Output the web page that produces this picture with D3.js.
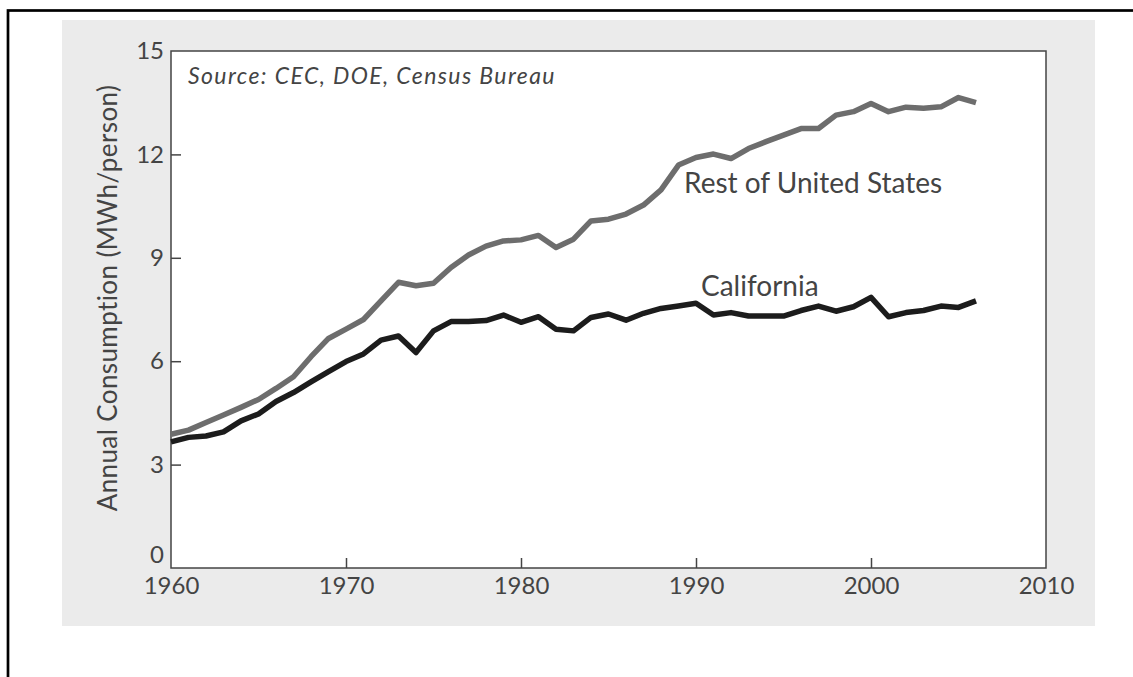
<!DOCTYPE html>
<html>
<head>
<meta charset="utf-8">
<script src="https://cdn.jsdelivr.net/npm/d3@7.9.0/dist/d3.min.js"></script>
<style>
  body { margin: 0; background: #fff; }
  svg { display: block; font-family: Lato, "Open Sans", sans-serif; }
  .axis text { fill: #444; font-size: 24px; font-family: Lato, "Open Sans", sans-serif; }
  .axis line { stroke: #444; stroke-width: 1.5; }
</style>
</head>
<body>
<svg id="chart" width="1133" height="677"></svg>
<script>
const years = d3.range(1960, 2007);

const restOfUS = [
  3.88, 4.0, 4.22, 4.44, 4.66, 4.89, 5.21, 5.55, 6.13, 6.66,
  6.93, 7.21, 7.75, 8.29, 8.19, 8.26, 8.72, 9.08, 9.34, 9.49,
  9.52, 9.65, 9.3, 9.54, 10.07, 10.12, 10.27, 10.53, 10.97, 11.69,
  11.91, 12.01, 11.88, 12.17, 12.37, 12.56, 12.75, 12.75, 13.14, 13.24,
  13.48, 13.24, 13.37, 13.34, 13.38, 13.65, 13.5
];

const california = [
  3.66, 3.79, 3.83, 3.95, 4.27, 4.47, 4.83, 5.09, 5.4, 5.7,
  5.99, 6.21, 6.61, 6.73, 6.25, 6.88, 7.15, 7.15, 7.18, 7.34,
  7.13, 7.29, 6.93, 6.88, 7.27, 7.37, 7.19, 7.39, 7.53, 7.6,
  7.68, 7.34, 7.41, 7.31, 7.31, 7.31, 7.47, 7.6, 7.45, 7.58,
  7.85, 7.29, 7.41, 7.47, 7.6, 7.56, 7.75
];

const xTicks = [1960, 1970, 1980, 1990, 2000, 2010];
const yTicks = [0, 3, 6, 9, 12, 15];

const svg = d3.select('#chart');

// outer frame and grey panel
svg.append('rect')
  .attr('x', 8).attr('y', 10.5)
  .attr('width', 1200).attr('height', 800)
  .attr('fill', 'none').attr('stroke', '#000').attr('stroke-width', 2.7);

svg.append('rect')
  .attr('x', 62).attr('y', 20)
  .attr('width', 1033).attr('height', 606)
  .attr('fill', '#ebebeb');

const plotLeft = 171, plotTop = 51, plotRight = 1046, plotBottom = 568;

const x = d3.scaleLinear().domain([1960, 2010]).range([plotLeft, plotRight]);
const y = d3.scaleLinear().domain([0, 15]).range([plotBottom, plotTop]);

svg.append('rect')
  .attr('x', plotLeft).attr('y', plotTop)
  .attr('width', plotRight - plotLeft).attr('height', plotBottom - plotTop)
  .attr('fill', '#fff').attr('stroke', '#444').attr('stroke-width', 1.5);

let yAxis = svg.append('g')
  .attr('class', 'axis')
  .attr('transform', `translate(${plotLeft},0)`)
  .call(d3.axisLeft(y).tickValues(yTicks).tickSizeInner(-10).tickSizeOuter(0).tickPadding(7));
yAxis.select('.domain').remove();
yAxis.selectAll('.tick')
  .filter((d) => d === 0 || d === 15)
  .select('line').remove();
// lift the zero label clear of the year labels
yAxis.selectAll('.tick text')
  .filter((d) => d === 0)
  .attr('dy', '-0.22em');

let xAxis = svg.append('g')
  .attr('class', 'axis')
  .attr('transform', `translate(0,${plotBottom})`)
  .call(d3.axisBottom(x).tickValues(xTicks).tickFormat(d3.format('d')).tickSizeInner(-10).tickSizeOuter(0).tickPadding(9));
xAxis.select('.domain').remove();
xAxis.selectAll('.tick')
  .filter((d) => d === 1960 || d === 2010)
  .select('line').remove();

svg.append('text')
  .attr('transform', `translate(108,298) rotate(-90)`)
  .attr('text-anchor', 'middle')
  .attr('dy', '0.35em')
  .attr('fill', '#444')
  .attr('font-size', 26)
  .attr('letter-spacing', 0.4)
  .text('Annual Consumption (MWh/person)');

svg.append('text')
  .attr('x', 188).attr('y', 84)
  .attr('fill', '#444')
  .attr('font-size', 23)
  .attr('letter-spacing', 1.4)
  .attr('font-style', 'italic')
  .text('Source: CEC, DOE, Census Bureau');

const line = d3.line()
  .x((d, i) => x(years[i]))
  .y((d) => y(d));

svg.append('path')
  .datum(restOfUS)
  .attr('d', line)
  .attr('fill', 'none')
  .attr('stroke', '#6d6d6d')
  .attr('stroke-width', 5.5)
  .attr('stroke-linejoin', 'round');

svg.append('path')
  .datum(california)
  .attr('d', line)
  .attr('fill', 'none')
  .attr('stroke', '#1c1c1c')
  .attr('stroke-width', 5.5)
  .attr('stroke-linejoin', 'round');

svg.append('text')
  .attr('x', 684).attr('y', 193)
  .attr('fill', '#444')
  .attr('font-size', 28)
  .text('Rest of United States');

svg.append('text')
  .attr('x', 701).attr('y', 296)
  .attr('fill', '#444')
  .attr('font-size', 28)
  .text('California');
</script>
</body>
</html>
